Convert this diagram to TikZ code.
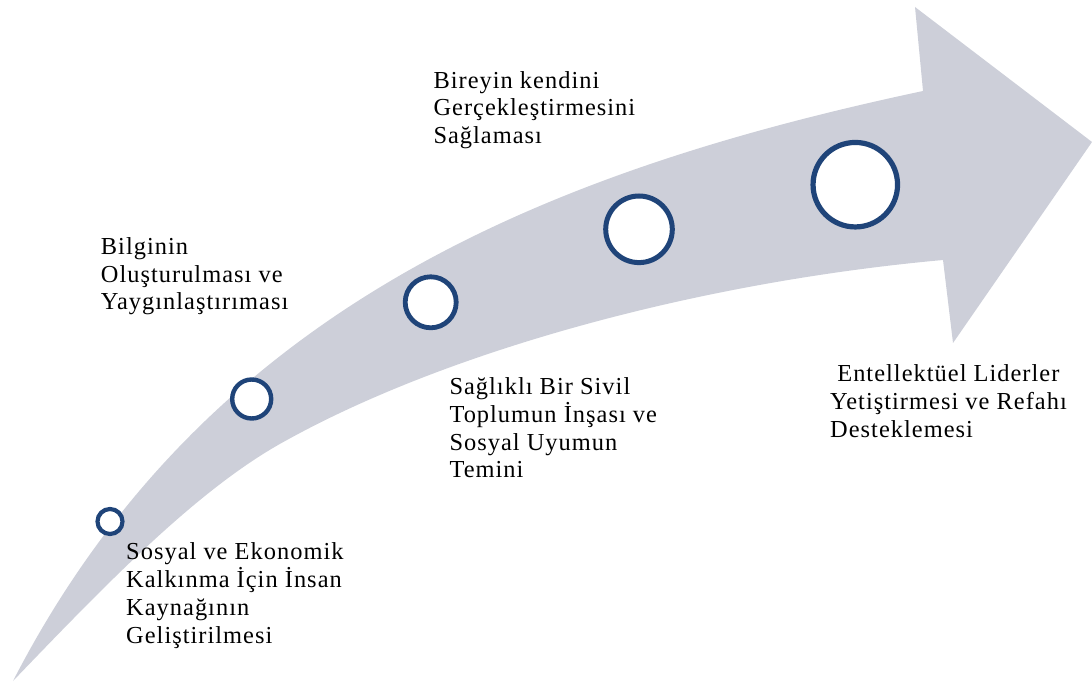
\documentclass[tikz,border=0pt]{standalone}
\usepackage{fontspec}
\setmainfont{Liberation Serif}[LetterSpace=4.2]
\definecolor{bandgray}{RGB}{205,207,217}
\definecolor{ringblue}{RGB}{31,68,121}
\begin{document}
\begin{tikzpicture}[x=1pt,y=-1pt,
  ring/.style={circle, draw=ringblue, fill=white, inner sep=0pt, line width=#1},
  lbl/.style={font=\fontsize{24.4}{27.7}\selectfont, align=left, inner sep=0pt, anchor=base west, text=black}]
\useasboundingbox (0,0) rectangle (1092,684);
% curved arrow
\fill[bandgray] (13,681) .. controls (204,310) and (542,172) .. (923,91)
  -- (915,7) -- (1092,142) -- (953,343) -- (943,260)
  .. controls (700,282) and (450,350) .. (287,440)
  .. controls (200,487) and (110,580) .. (13,681) -- cycle;
% rings
\node[ring=4.2pt, minimum size=25pt] (c1) at (110,521.5) {};
\node[ring=4.4pt, minimum size=39pt] (c2) at (251.7,399) {};
\node[ring=4.8pt, minimum size=51pt] (c3) at (430.7,302.3) {};
\node[ring=5pt, minimum size=66.6pt] (c4) at (639,229.3) {};
\node[ring=5.2pt, minimum size=84.5pt] (c5) at (855.3,184.7) {};
% labels (anchored at the baseline of the last line)
\node[lbl] (t1) at (126,643) {Sosyal ve Ekonomik\\Kalkınma İçin İnsan\\Kaynağının\\Geliştirilmesi};
\node[lbl] (t2) at (100.7,310) {Bilginin\\Oluşturulması ve\\Yaygınlaştırıması};
\node[lbl] (t3) at (433.3,143.7) {Bireyin kendini\\Gerçekleştirmesini\\Sağlaması};
\node[lbl] (t4) at (449.3,477.8) {Sağlıklı Bir Sivil\\Toplumun İnşası ve\\Sosyal Uyumun\\Temini};
\node[lbl] (t5) at (830,437.3) {\ Entellektüel Liderler\\Yetiştirmesi ve Refahı\\Desteklemesi};
\end{tikzpicture}
\end{document}
